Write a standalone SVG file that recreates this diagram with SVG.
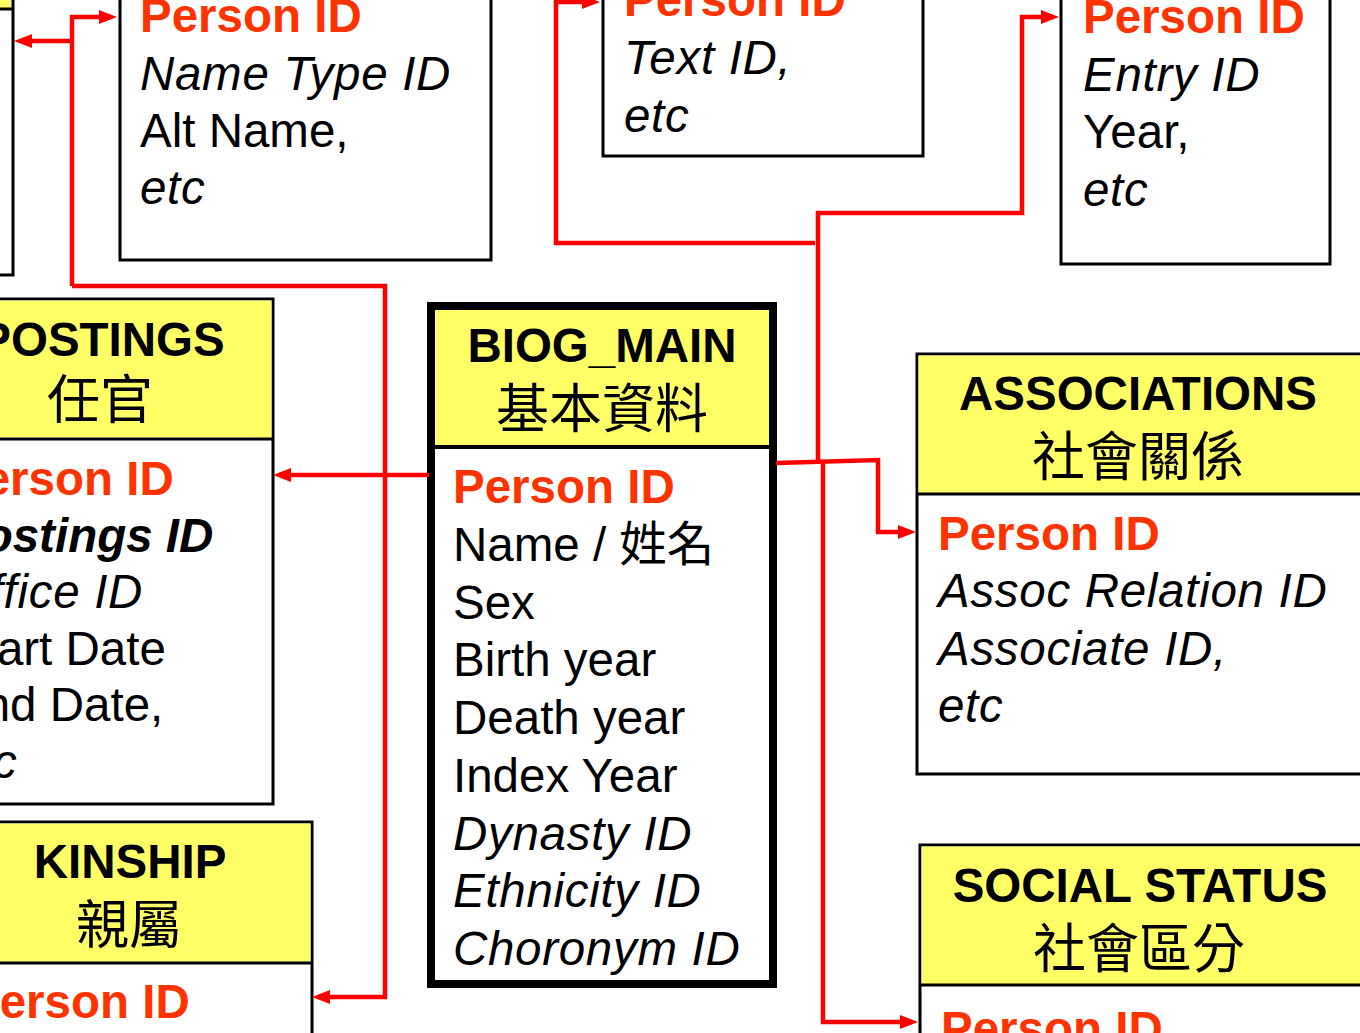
<svg xmlns="http://www.w3.org/2000/svg" width="1360" height="1033" viewBox="0 0 1360 1033">
<defs>
<style>
.box{fill:#fff;stroke:#000;stroke-width:3}
.hdr{fill:#FFFF66}
.sep{stroke:#000;stroke-width:3}
text{font-family:"Liberation Sans","Noto Sans CJK TC",sans-serif;font-size:47.5px;fill:#000}
.t{font-weight:bold;text-anchor:middle}
.cjk{font-family:"Noto Sans CJK TC",sans-serif;font-size:53px;text-anchor:middle}
.pk{font-weight:bold;fill:#FF3300}
.i{font-style:italic;letter-spacing:0.7px}
.bi{font-style:italic;font-weight:bold}
.c{fill:none;stroke:#FF0000;stroke-width:4.5;stroke-linejoin:miter}
</style>
<marker id="arr" viewBox="0 0 18 14" markerWidth="18" markerHeight="14" refX="12" refY="7" orient="auto" markerUnits="userSpaceOnUse">
<path d="M0,0 L18,7 L0,14 z" fill="#FF0000"/>
</marker>
</defs>
<rect width="1360" height="1033" fill="#fff"/>

<g id="left-top-box">
<rect class="box" x="-330" y="-200" width="343" height="475"/>
<rect class="hdr" x="-330" y="-200" width="341" height="208"/>
<line class="sep" x1="-330" y1="9" x2="13" y2="9"/>
</g>

<g id="names">
<rect class="box" x="120" y="-100" width="371" height="360"/>
<text class="pk" x="140" y="32">Person ID</text>
<text class="i" x="140" y="90">Name Type ID</text>
<text x="140" y="147">Alt Name,</text>
<text class="i" x="140" y="204">etc</text>
</g>

<g id="texts">
<rect class="box" x="603" y="-200" width="320" height="356"/>
<text class="pk" x="624" y="16">Person ID</text>
<text class="i" x="624" y="74">Text ID,</text>
<text class="i" x="624" y="132">etc</text>
</g>

<g id="entries">
<rect class="box" x="1061" y="-200" width="269" height="464"/>
<text class="pk" x="1083" y="33">Person ID</text>
<text class="i" x="1083" y="91">Entry ID</text>
<text x="1083" y="148">Year,</text>
<text class="i" x="1083" y="206">etc</text>
</g>

<g id="postings">
<rect class="box" x="-71" y="299" width="344" height="505"/>
<rect class="hdr" x="-70" y="300.5" width="341.5" height="137"/>
<line class="sep" x1="-71" y1="439" x2="273" y2="439"/>
<text class="t" x="102" y="356">POSTINGS</text>
<text class="cjk" x="100" y="419">任官</text>
<text class="pk" x="-48" y="495">Person ID</text>
<text class="bi" x="-48" y="551.5">Postings ID</text>
<text class="i" x="-48" y="608">Office ID</text>
<text x="-48" y="664.5">Start Date</text>
<text x="-48" y="721">End Date,</text>
<text class="i" x="-48" y="777.5">etc</text>
</g>

<g id="kinship">
<rect class="box" x="-54" y="822" width="366" height="300"/>
<rect class="hdr" x="-53" y="823.5" width="363.5" height="138"/>
<line class="sep" x1="-54" y1="963" x2="312" y2="963"/>
<text class="t" x="130" y="878">KINSHIP</text>
<text class="cjk" x="129" y="944">親屬</text>
<text class="pk" x="-32" y="1018">Person ID</text>
</g>

<g id="biog-main">
<rect x="431" y="306" width="342" height="678" fill="#fff" stroke="#000" stroke-width="8"/>
<rect class="hdr" x="435" y="310" width="334" height="136"/>
<line x1="435" y1="447" x2="769" y2="447" stroke="#000" stroke-width="4"/>
<text class="t" x="602" y="362">BIOG_MAIN</text>
<text class="cjk" x="602" y="428">基本資料</text>
<text class="pk" x="453" y="503">Person ID</text>
<text x="453" y="560.75">Name / <tspan font-family="Noto Sans CJK TC, sans-serif">姓名</tspan></text>
<text x="453" y="618.5">Sex</text>
<text x="453" y="676.25">Birth year</text>
<text x="453" y="734">Death year</text>
<text x="453" y="791.75">Index Year</text>
<text class="i" x="453" y="849.5">Dynasty ID</text>
<text class="i" x="453" y="907.25">Ethnicity ID</text>
<text class="i" x="453" y="965">Choronym ID</text>
</g>

<g id="associations">
<rect class="box" x="917" y="354" width="445" height="420"/>
<rect class="hdr" x="918.5" y="355.5" width="442" height="138"/>
<line class="sep" x1="917" y1="494" x2="1362" y2="494"/>
<text class="t" x="1138" y="410">ASSOCIATIONS</text>
<text class="cjk" x="1138" y="476">社會關係</text>
<text class="pk" x="938" y="550">Person ID</text>
<text class="i" x="938" y="607">Assoc Relation ID</text>
<text class="i" x="938" y="665">Associate ID,</text>
<text class="i" x="938" y="722">etc</text>
</g>

<g id="social-status">
<rect class="box" x="920" y="845" width="442" height="300"/>
<rect class="hdr" x="921.5" y="846.5" width="439" height="138"/>
<line class="sep" x1="920" y1="985" x2="1362" y2="985"/>
<text class="t" x="1140" y="902">SOCIAL STATUS</text>
<text class="cjk" x="1139" y="968">社會區分</text>
<text class="pk" x="941" y="1045">Person ID</text>
</g>

<g id="connectors">
<path class="c" d="M72,286 V17 H111" marker-end="url(#arr)"/>
<path class="c" d="M72,41 H20" marker-end="url(#arr)"/>
<path class="c" d="M72,286 H385 V997 H318" marker-end="url(#arr)"/>
<path class="c" d="M429,475 H279" marker-end="url(#arr)"/>
<path class="c" d="M815,243 H556 V2 H594" marker-end="url(#arr)"/>
<path class="c" d="M818,462 V213 H1022 V17 H1053" marker-end="url(#arr)"/>
<path class="c" d="M776,463 L878,460 V532 H910" marker-end="url(#arr)"/>
<path class="c" d="M823,462 V1022 H912" marker-end="url(#arr)"/>
</g>
</svg>
